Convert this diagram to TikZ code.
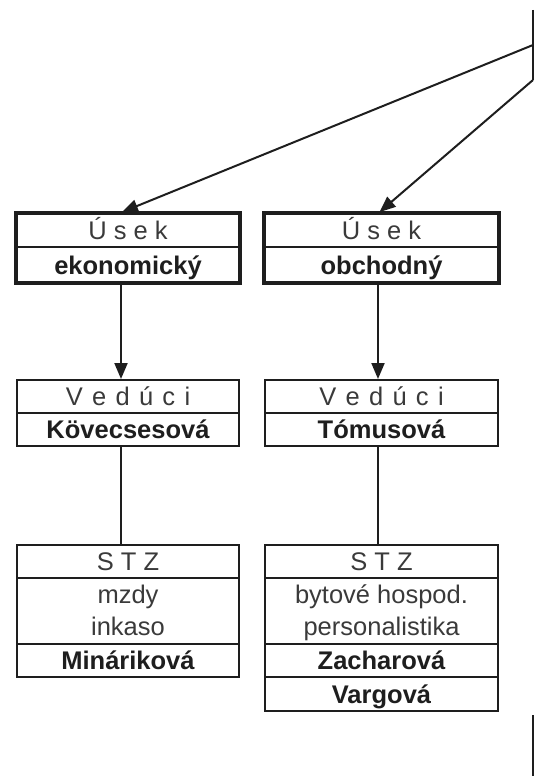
\documentclass[tikz,border=0pt]{standalone}
\usepackage{fontspec}
\setmainfont{Liberation Sans}
\usetikzlibrary{arrows.meta}
\definecolor{ink}{HTML}{1E1E1E}
\definecolor{hdr}{HTML}{3A3A3A}
\newcommand{\gapv}{\hspace{9.3pt}}
\tikzset{
  thickbox/.style={draw=ink, line width=3.8pt, rectangle, inner sep=0pt},
  thinbox/.style={draw=ink, line width=2pt, rectangle, inner sep=0pt},
  divider/.style={draw=ink, line width=2pt},
  hdrtext/.style={anchor=base, inner sep=0pt, text=hdr, font=\fontsize{25.5}{30}\selectfont},
  plaintext/.style={anchor=base, inner sep=0pt, text=hdr, font=\fontsize{25.5}{30}\selectfont},
  nametext/.style={anchor=base, inner sep=0pt, text=ink, font=\fontsize{25.5}{30}\selectfont\bfseries},
  conn/.style={draw=ink, line width=2pt},
  arrowconn/.style={conn, -{Triangle[length=16pt,width=13pt]}},
}
\begin{document}
\begin{tikzpicture}[x=1pt,y=-1pt]
\useasboundingbox (0,0) rectangle (534,776);
% boxes
\node[thickbox, minimum width=224pt, minimum height=70pt] (B1) at (128,248) {};
\node[thickbox, minimum width=235pt, minimum height=70pt] (B2) at (381.5,248) {};
\node[thinbox, minimum width=222pt, minimum height=66pt] (V1) at (128,413) {};
\node[thinbox, minimum width=233pt, minimum height=66pt] (V2) at (381.5,413) {};
\node[thinbox, minimum width=222pt, minimum height=132pt] (S1) at (128,611) {};
\node[thinbox, minimum width=233pt, minimum height=166pt] (S2) at (381.5,628) {};
% dividers
\draw[divider] (B1.west |- 0,247) -- (B1.east |- 0,247);
\draw[divider] (B2.west |- 0,247) -- (B2.east |- 0,247);
\draw[divider] (V1.west |- 0,413) -- (V1.east |- 0,413);
\draw[divider] (V2.west |- 0,413) -- (V2.east |- 0,413);
\draw[divider] (S1.west |- 0,578) -- (S1.east |- 0,578);
\draw[divider] (S1.west |- 0,644) -- (S1.east |- 0,644);
\draw[divider] (S2.west |- 0,578) -- (S2.east |- 0,578);
\draw[divider] (S2.west |- 0,644) -- (S2.east |- 0,644);
\draw[divider] (S2.west |- 0,677) -- (S2.east |- 0,677);
% texts
\node[hdrtext] (t1) at (128,239) {Ú s e k};
\node[nametext] (t2) at (128,274) {ekonomický};
\node[hdrtext] (t3) at (381.5,239) {Ú s e k};
\node[nametext] (t4) at (381.5,274) {obchodný};
\node[hdrtext] (t5) at (128,405) {V\gapv e\gapv d\gapv ú\gapv c\gapv i};
\node[nametext] (t6) at (128,438.5) {Kövecsesová};
\node[hdrtext] (t7) at (381.5,405) {V\gapv e\gapv d\gapv ú\gapv c\gapv i};
\node[nametext] (t8) at (381.5,438.5) {Tómusová};
\node[hdrtext] (t9) at (128,570.5) {S T Z};
\node[plaintext] (t10) at (128,603) {mzdy};
\node[plaintext] (t11) at (128,635) {inkaso};
\node[nametext] (t12) at (128,669.5) {Mináriková};
\node[hdrtext] (t13) at (381.5,570.5) {S T Z};
\node[plaintext] (t14) at (381.5,603) {bytové hospod.};
\node[plaintext] (t15) at (381.5,635) {personalistika};
\node[nametext] (t16) at (381.5,669.5) {Zacharová};
\node[nametext] (t17) at (381.5,703) {Vargová};
% off-picture box edges at right
\coordinate (e1) at (533,10);
\coordinate (e2) at (533,80);
\coordinate (e3) at (533,715);
\coordinate (e4) at (533,776);
\coordinate (s1) at (533,45);
\draw[conn] (e1) -- (e2);
\draw[conn] (e3) -- (e4);
% connectors
\draw[arrowconn] (s1) -- ([xshift=-6pt,yshift=-1pt]B1.north);
\draw[arrowconn] (e2) -- ([xshift=-2pt,yshift=-1pt]B2.north);
\draw[arrowconn] ([xshift=-7pt]B1.south) -- ([xshift=-7pt]V1.north);
\draw[arrowconn] ([xshift=-3.5pt]B2.south) -- ([xshift=-3.5pt]V2.north);
\draw[conn] ([xshift=-7pt]V1.south) -- ([xshift=-7pt]S1.north);
\draw[conn] ([xshift=-3.5pt]V2.south) -- ([xshift=-3.5pt]S2.north);
\end{tikzpicture}
\end{document}
